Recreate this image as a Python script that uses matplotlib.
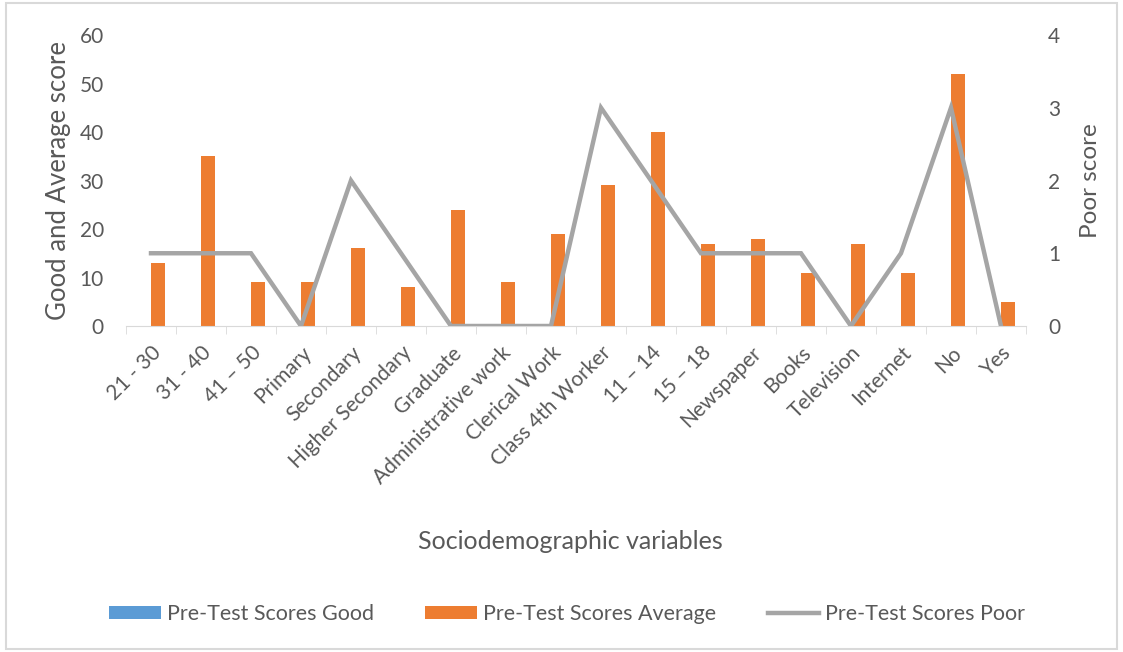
import matplotlib
matplotlib.use("Agg")
import matplotlib.pyplot as plt
import numpy as np
from matplotlib.patches import Rectangle

categories = ["21 - 30", "31 - 40", "41 \u2013 50", "Primary", "Secondary", "Higher Secondary",
              "Graduate", "Administrative work", "Clerical Work", "Class 4th Worker",
              "11 \u2013 14", "15 \u2013 18", "Newspaper", "Books", "Television", "Internet",
              "No", "Yes"]
good = [0, 0, 0, 0, 0, 0, 0, 0, 0, 0, 0, 0, 0, 0, 0, 0, 0, 0]
average = [13, 35, 9, 9, 16, 8, 24, 9, 19, 29, 40, 17, 18, 11, 17, 11, 52, 5]
poor = [1, 1, 1, 0, 2, 1, 0, 0, 0, 3, 2, 1, 1, 1, 0, 1, 3, 0]

plt.rcParams['font.family'] = ['Lato', 'DejaVu Sans']
TXT = '#595959'
BLUE = '#5B9BD5'
ORANGE = '#ED7D31'
GRAY = '#A5A5A5'

fig = plt.figure(figsize=(11.23, 6.52), dpi=100)
fig.patches.append(Rectangle((0.005, 0.005), 0.99, 0.99, transform=fig.transFigure,
                             fill=False, edgecolor='#D9D9D9', linewidth=1.5))
ax = fig.add_axes([0.1122, 0.5, 0.8014, 0.4463])
x = np.arange(len(categories))
w = 0.28
ax.bar(x - w / 2, good, w, color=BLUE, label='Pre-Test Scores Good')
ax.bar(x + w / 2, average, w, color=ORANGE, label='Pre-Test Scores Average')
ax.set_xlim(-0.5, len(categories) - 0.5)
ax.set_ylim(0, 60)
ax.set_yticks(range(0, 61, 10))
for s in ['top', 'right', 'left']:
    ax.spines[s].set_visible(False)
ax.spines['bottom'].set_color('#D9D9D9')
ax.set_xticks(x)
ax.set_xticklabels(categories, rotation=45, ha='right', rotation_mode='anchor',
                   fontsize=15, color=TXT)
ax.set_xticks(np.arange(-0.5, len(categories), 1), minor=True)
ax.tick_params(axis='x', which='major', length=0, pad=12)
ax.tick_params(axis='x', which='minor', length=6, color='#D9D9D9')
ax.tick_params(axis='y', length=0, labelsize=15, labelcolor=TXT, pad=16)
ax.set_ylabel('Good and Average score', fontsize=18.5, color=TXT, labelpad=6)

ax2 = ax.twinx()
ax2.plot(x, poor, color=GRAY, linewidth=3.2, label='Pre-Test Scores Poor', solid_joinstyle='miter')
ax2.set_ylim(0, 4)
ax2.set_yticks(range(0, 5))
for s in ['top', 'right', 'left', 'bottom']:
    ax2.spines[s].set_visible(False)
ax2.tick_params(axis='y', length=0, labelsize=15, labelcolor=TXT, pad=16)
ax2.set_ylabel('Poor score', fontsize=17.5, color=TXT, labelpad=14)

fig.text(0.508, 0.169, 'Sociodemographic variables', ha='center', va='center',
         fontsize=18, color=TXT)

h1, l1 = ax.get_legend_handles_labels()
h2, l2 = ax2.get_legend_handles_labels()
leg = fig.legend(h1 + h2, l1 + l2, loc='center', bbox_to_anchor=(0.505, 0.058), ncol=3,
                 frameon=False, fontsize=15.5, handlelength=2.4, handleheight=0.6,
                 columnspacing=2.4, handletextpad=0.28)
for t in leg.get_texts():
    t.set_color(TXT)

fig.savefig('out.png', dpi=100)
